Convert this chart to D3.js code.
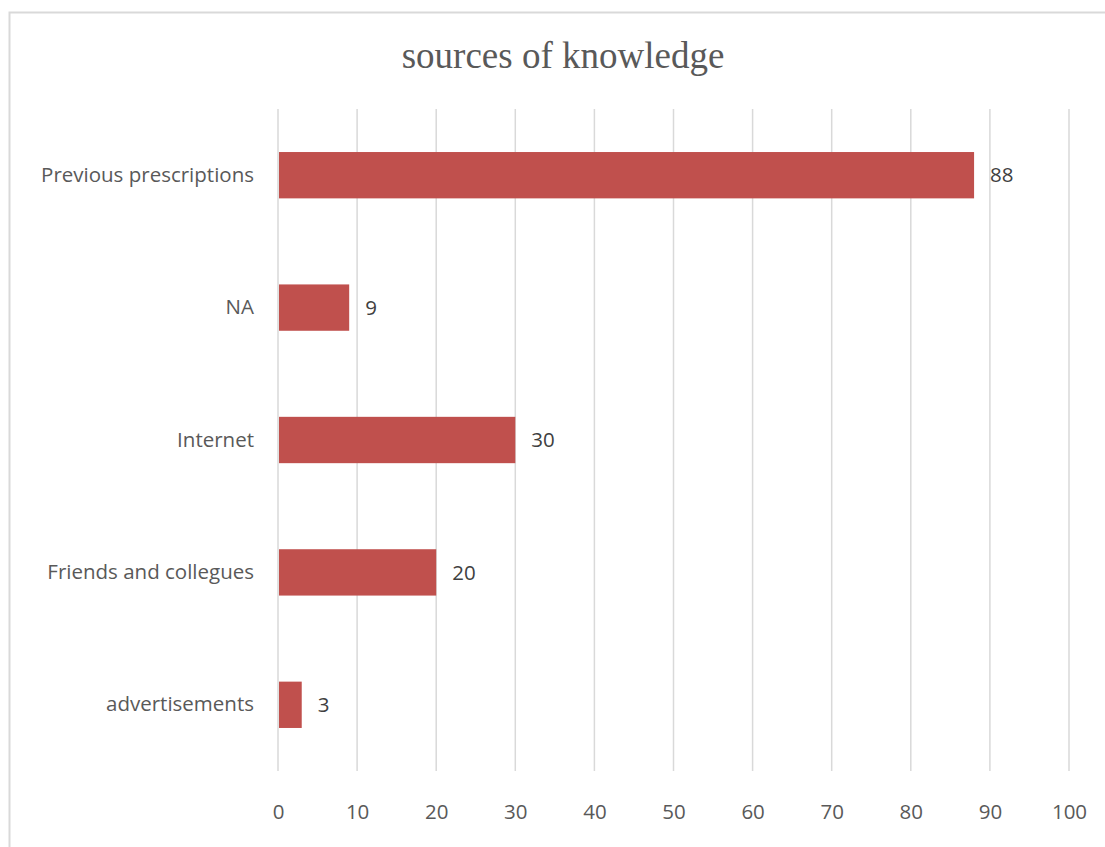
<!DOCTYPE html>
<html>
<head>
<meta charset="utf-8">
<script src="https://cdn.jsdelivr.net/npm/d3@7/dist/d3.min.js"></script>
<style>
  html, body { margin: 0; padding: 0; background: #fff; }
  svg { display: block; }
</style>
</head>
<body>
<svg id="chart" width="1105" height="847"></svg>
<script>
// Sources of knowledge, listed top to bottom
const categories = ["Previous prescriptions", "NA", "Internet", "Friends and collegues", "advertisements"];
const counts = [88, 9, 30, 20, 3];
const xTicks = [0, 10, 20, 30, 40, 50, 60, 70, 80, 90, 100];
const chartTitle = "sources of knowledge";

const svg = d3.select("#chart");
const W = 1105, H = 847;
const plot = { left: 278, right: 1069, top: 109, bottom: 771 };
const labelFont = "'Open Sans', 'Liberation Sans', sans-serif";

// outer chart frame
svg.append("rect")
  .attr("x", 9.5).attr("y", 12.5)
  .attr("width", W + 20).attr("height", H + 20)
  .attr("fill", "#fff").attr("stroke", "#d9d9d9").attr("stroke-width", 2);

svg.append("text")
  .attr("x", 563).attr("y", 68)
  .attr("text-anchor", "middle")
  .attr("font-family", "'Liberation Serif', 'Times New Roman', serif")
  .attr("font-size", 37)
  .attr("fill", "#595959")
  .text(chartTitle);

const x = d3.scaleLinear().domain([0, 100]).range([plot.left, plot.right]);
const y = d3.scaleBand().domain(categories).range([plot.top, plot.bottom])
  .paddingInner(0.65).paddingOuter(0.325);

// vertical gridlines
svg.append("g").selectAll("line").data(xTicks).join("line")
  .attr("x1", d => x(d)).attr("x2", d => x(d))
  .attr("y1", plot.top).attr("y2", plot.bottom)
  .attr("stroke", "#d9d9d9").attr("stroke-width", 1.5);

// x axis tick labels
const xAxis = d3.axisBottom(x).tickValues(xTicks).tickSize(0).tickPadding(0);
const gx = svg.append("g").attr("transform", `translate(0, ${plot.bottom + 48})`).call(xAxis);
gx.select(".domain").remove();
gx.selectAll("text")
  .attr("font-family", labelFont)
  .attr("font-size", 20.5)
  .attr("fill", "#595959")
  .attr("dy", 0);

// category labels
const yAxis = d3.axisLeft(y).tickSize(0).tickPadding(24);
const gy = svg.append("g").attr("transform", `translate(${plot.left}, 0)`).call(yAxis);
gy.select(".domain").remove();
gy.selectAll("text")
  .attr("font-family", labelFont)
  .attr("font-size", 20.5)
  .attr("fill", "#595959");

const data = categories.map((c, i) => ({ c, v: counts[i] }));

// bars
svg.append("g").selectAll("rect").data(data).join("rect")
  .attr("x", x(0) + 1)
  .attr("y", d => y(d.c))
  .attr("width", d => x(d.v) - x(0) - 1)
  .attr("height", y.bandwidth())
  .attr("fill", "#c0504d");

// value labels
svg.append("g").selectAll("text").data(data).join("text")
  .attr("x", d => x(d.v) + 16)
  .attr("y", d => y(d.c) + y.bandwidth() / 2)
  .attr("dy", "0.35em")
  .attr("font-family", labelFont)
  .attr("font-size", 20.5)
  .attr("fill", "#404040")
  .text(d => d.v);
</script>
</body>
</html>
